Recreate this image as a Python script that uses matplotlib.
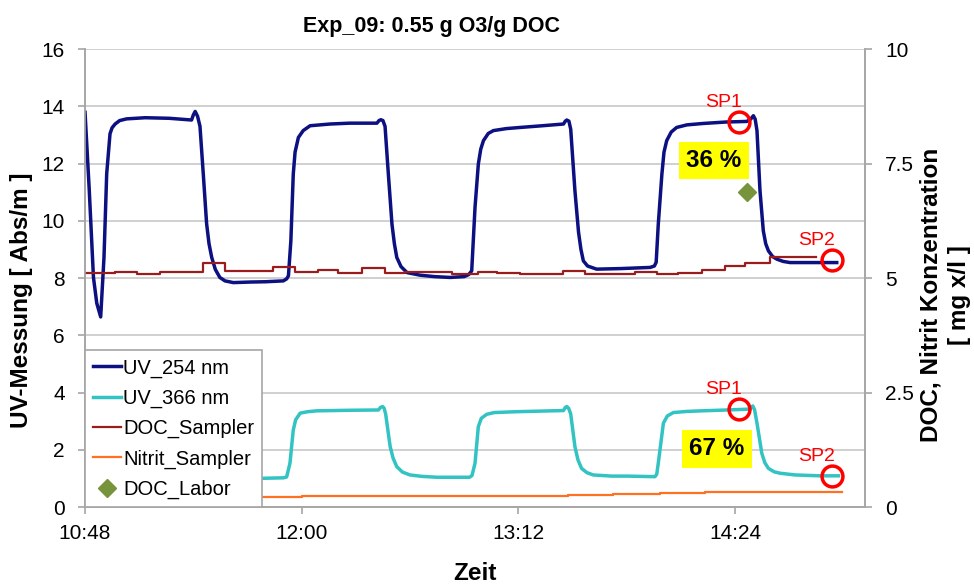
#UV-Messung (254/366 nm) mit DOC- und Nitrit-Konzentration, Exp_09

import matplotlib
matplotlib.use('Agg')
import matplotlib.pyplot as plt
from matplotlib.ticker import FuncFormatter, MultipleLocator

plt.rcParams['font.family'] = ['Liberation Sans', 'DejaVu Sans']

start = 10*60 + 48  # 10:48 in Minuten

# Zeit in Minuten nach 10:48
uv254_t = [0, 1.4, 2.8, 3.9, 5.2, 6.3, 7.2, 8.3, 9.0, 10, 11.5, 13.8, 20, 28, 35.4,
           36.0, 36.6, 37.4, 38.2, 39.3, 40.4, 41.2, 42.1, 43.3, 44.8, 46.5, 49.3, 55,
           60, 65.9, 67.0, 67.6, 68.4, 69.2, 69.8, 70.9, 72.5, 74.8, 81.4, 88, 97,
           97.7, 98.3, 99.0, 99.7, 100.8, 102, 102.8, 103.6, 105, 107, 111.3, 116,
           121.3, 126, 127.5, 128.5, 129.6, 130.7, 131.5, 132.4, 134, 135.7, 140,
           144.6, 152, 159, 159.6, 160.1, 160.8, 161.4, 162.8, 164.0, 164.8, 165.6,
           167, 170, 178, 187.8, 189.2, 189.8, 190.5, 191.7, 192.4, 193.3, 194.8,
           196.6, 200, 205.5, 213, 219.9, 221.2, 222.1, 222.7, 223.3, 224.3, 225.4,
           226.2, 227.1, 228.5, 229.9, 232, 234.3, 242, 249.8]
uv254 = [13.79, 11.08, 8.02, 7.12, 6.64, 8.72, 11.64, 13.04, 13.25, 13.38, 13.5, 13.56,
         13.6, 13.58, 13.52, 13.7, 13.82, 13.65, 13.3, 11.63, 9.9, 9.2, 8.72, 8.3,
         8.02, 7.9, 7.84, 7.86, 7.87, 7.9, 7.97, 8.08, 9.30, 11.63, 12.4, 12.91,
         13.15, 13.32, 13.38, 13.41, 13.41, 13.5, 13.53, 13.5, 13.3, 11.63, 9.88,
         9.2, 8.72, 8.4, 8.19, 8.1, 8.05, 8.02, 8.05, 8.12, 8.25, 10.47, 11.98, 12.5,
         12.8, 13.05, 13.15, 13.22, 13.26, 13.32, 13.38, 13.48, 13.52, 13.48, 13.2,
         11.05, 9.6, 9.0, 8.6, 8.42, 8.31, 8.33, 8.37, 8.42, 8.55, 9.88, 11.63, 12.4,
         12.8, 13.1, 13.26, 13.35, 13.4, 13.45, 13.47, 13.55, 13.67, 13.55, 13.15,
         11.05, 9.65, 9.2, 8.95, 8.75, 8.66, 8.58, 8.54, 8.54, 8.54]

uv366_t = [50, 57.6, 66, 67, 68.1, 69.2, 70.0, 71.5, 74, 77, 88, 97.5, 98.2, 98.9,
           99.4, 99.9, 101.4, 102.4, 103.6, 105.5, 108, 112, 116.9, 127.8, 128.6,
           129.6, 130.7, 131.7, 133.5, 136, 143.4, 159, 159.6, 160.1, 160.7, 161.4,
           162.8, 163.8, 165, 166.8, 168.9, 175, 180, 189.4, 190.0, 190.5, 192.2,
           193.5, 195.5, 200, 205, 213.3, 221, 221.5, 221.9, 222.5, 223.3, 224.9,
           225.9, 227.1, 229, 231, 236, 244.3, 250.4]
uv366 = [1.0, 1.0, 1.02, 1.05, 1.53, 2.69, 3.05, 3.28, 3.33, 3.36, 3.38, 3.39, 3.48,
         3.51, 3.45, 3.25, 2.11, 1.7, 1.41, 1.22, 1.12, 1.07, 1.04, 1.04, 1.1, 1.53,
         2.81, 3.1, 3.24, 3.3, 3.33, 3.37, 3.48, 3.51, 3.45, 3.25, 2.11, 1.65, 1.35,
         1.2, 1.12, 1.08, 1.08, 1.06, 1.15, 1.53, 2.93, 3.18, 3.3, 3.34, 3.36, 3.39,
         3.42, 3.5, 3.53, 3.4, 2.93, 1.88, 1.55, 1.35, 1.23, 1.18, 1.12, 1.09, 1.09]

# Stufen (Beginn jeder Stufe), rechte Achse
doc_t = [0, 10, 17.2, 24.9, 39.2, 46.5, 62.5, 69.8, 77.4, 84.1, 92.1, 99.7, 106.3,
         122, 130.6, 136.9, 144.6, 158.9, 166.2, 182.8, 190.1, 197.1, 205.1, 212.7,
         219.3, 227.7, 242.9]
doc = [5.11, 5.14, 5.09, 5.14, 5.33, 5.16, 5.24, 5.13, 5.18, 5.11, 5.22, 5.11, 5.14,
       5.09, 5.13, 5.11, 5.09, 5.15, 5.09, 5.14, 5.08, 5.12, 5.18, 5.27, 5.33, 5.45,
       5.45]

nitrit_t = [0, 72, 160.5, 175.5, 191, 206, 251.6]
nitrit = [0.22, 0.24, 0.26, 0.29, 0.31, 0.33, 0.33]

doc_labor_t = [219.9]
doc_labor = [6.88]

# Probenahmepunkte (UV_254 oben, UV_366 unten)
sp_t = [217.3, 248.3]
sp_uv254 = [13.45, 8.62]
sp_uv366 = [3.42, 1.08]
sp_names = ['SP1', 'SP2']

pct_labels = ['36 %', '67 %']
pct_t = [208.9, 209.9]
pct_y = [12.1, 2.03]

x254 = [start + t for t in uv254_t]
x366 = [start + t for t in uv366_t]
xdoc = [start + t for t in doc_t]
xnit = [start + t for t in nitrit_t]

grey = '#a6a6a6'

fig = plt.figure(figsize=(9.74, 5.85), dpi=100)
ax = fig.add_axes([0.0873, 0.1333, 0.8008, 0.7829])
ax2 = ax.twinx()

l1, = ax.plot(x254, uv254, color='#0c1080', lw=2.5, label='UV_254 nm', zorder=3)
l2, = ax.plot(x366, uv366, color='#33c3c3', lw=2.5, label='UV_366 nm', zorder=3)
l3, = ax2.step(xdoc, doc, where='post', color='#9a1c1c', lw=1.6, label='DOC_Sampler')
l4, = ax2.step(xnit, nitrit, where='post', color='#ff7020', lw=1.6, label='Nitrit_Sampler')
l5, = ax2.plot([start + t for t in doc_labor_t], doc_labor, 'D', color='#77933c',
               ms=9, ls='none', label='DOC_Labor')

# Kreise und Beschriftung SP1 / SP2
ax.plot([start + t for t in sp_t], sp_uv254, 'o', ms=15, mfc='none', mec='red', mew=2.5, zorder=4)
ax.plot([start + t for t in sp_t], sp_uv366, 'o', ms=15, mfc='none', mec='red', mew=2.5, zorder=4)
for i in range(len(sp_t)):
    for yv in (sp_uv254[i], sp_uv366[i]):
        ax.annotate(sp_names[i], (start + sp_t[i], yv), xytext=(-11, 14),
                    textcoords='offset points', color='red', fontsize=14,
                    ha='center', va='center')

for i in range(len(pct_labels)):
    ax.text(start + pct_t[i], pct_y[i], pct_labels[i], fontsize=17.5, fontweight='bold',
            ha='center', va='center', zorder=5,
            bbox=dict(boxstyle='square,pad=0.3', fc='#ffff00', ec='none'))

ax.set_xlim(start, start + 259.2)
ax.set_ylim(0, 16)
ax2.set_ylim(0, 10)
ax.xaxis.set_major_locator(MultipleLocator(72))
ax.xaxis.set_major_formatter(FuncFormatter(lambda v, p: '%d:%02d' % (v // 60, v % 60)))
ax.yaxis.set_major_locator(MultipleLocator(2))
ax2.yaxis.set_major_locator(MultipleLocator(2.5))
ax2.yaxis.set_major_formatter(FuncFormatter(lambda v, p: ('%g' % v)))

ax.grid(axis='y', color='#c8c8c8', lw=1.2)
ax.set_axisbelow(True)
for a in (ax, ax2):
    a.spines['top'].set_visible(False)
    for s in ('left', 'right', 'bottom'):
        a.spines[s].set_color(grey)
        a.spines[s].set_linewidth(1.2)
    a.tick_params(direction='out', length=5, width=1.2, color=grey, labelsize=15, pad=9.5)
ax.tick_params(axis='x', pad=7)

ax.set_title('Exp_09: 0.55 g O3/g DOC', fontsize=15.5, fontweight='bold', x=0.444, pad=12)
ax.set_xlabel('Zeit', fontsize=17.5, fontweight='bold', labelpad=14)
ax.set_ylabel('UV-Messung [ Abs/m ]', fontsize=17.5, fontweight='bold')
ax.yaxis.set_label_coords(-0.067, 0.452)
ax2.set_ylabel('DOC, Nitrit Konzentration\n[ mg x/l ]', fontsize=17.5, fontweight='bold',
               rotation=90, linespacing=1.3)
ax2.yaxis.set_label_coords(1.07, 0.463)

leg = ax2.legend(handles=[l1, l2, l3, l4, l5], loc='lower left', borderaxespad=0,
                 fontsize=14.5, fancybox=False, edgecolor=grey, framealpha=1,
                 handlelength=1.4, handletextpad=0.1, labelspacing=0.55,
                 borderpad=0.4)
leg.get_frame().set_linewidth(1.2)

fig.savefig('out.png', dpi=100)
